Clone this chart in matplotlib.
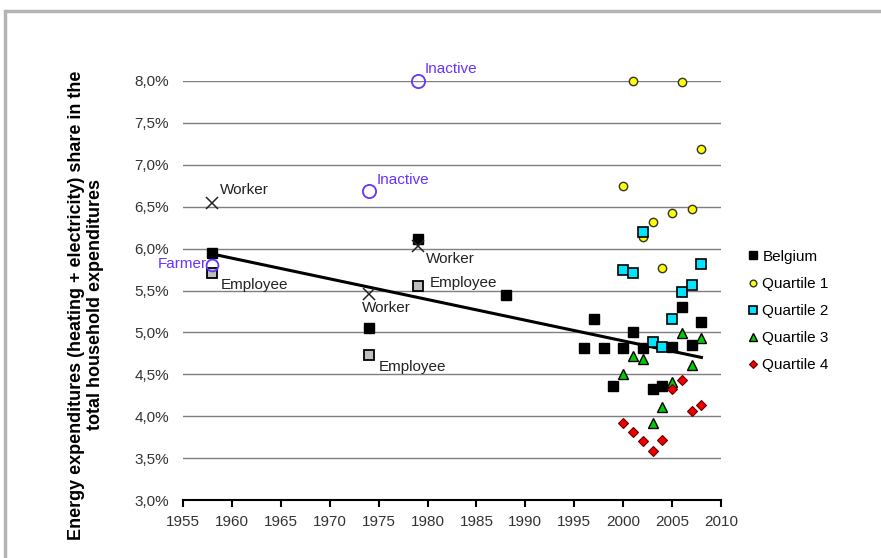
import numpy as np
import matplotlib
matplotlib.use("Agg")
import matplotlib.pyplot as plt
from matplotlib.patches import Rectangle
from matplotlib.ticker import FuncFormatter

plt.rcParams['font.family'] = ['Liberation Sans', 'DejaVu Sans']

# Belgian budget surveys, energy share of household spending (%)
bel_years = [1958, 1974, 1979, 1988, 1996, 1997, 1998, 1999, 2000, 2001,
             2002, 2003, 2004, 2005, 2006, 2007, 2008]
bel_share = [5.95, 5.05, 6.12, 5.45, 4.81, 5.16, 4.81, 4.36, 4.81, 5.00,
             4.81, 4.33, 4.36, 4.83, 5.30, 4.85, 5.13]

q_years = [2000, 2001, 2002, 2003, 2004, 2005, 2006, 2007, 2008]
q1_share = [6.75, 8.00, 6.14, 6.32, 5.77, 6.43, 7.99, 6.47, 7.19]
q2_share = [5.74, 5.71, 6.20, 4.89, 4.83, 5.16, 5.48, 5.57, 5.82]
q3_share = [4.50, 4.72, 4.68, 3.92, 4.11, 4.41, 4.99, 4.61, 4.93]
q4_share = [3.92, 3.81, 3.70, 3.59, 3.72, 4.33, 4.43, 4.06, 4.13]

# socio-professional groups in the older surveys
worker_years = [1958, 1974, 1979]
worker_share = [6.54, 5.46, 6.03]
employee_years = [1958, 1974, 1979]
employee_share = [5.71, 4.73, 5.55]
inactive_years = [1974, 1979]
inactive_share = [6.69, 8.00]
farmer_years = [1958]
farmer_share = [5.80]

violet = '#6633FF'

fig = plt.figure(figsize=(8.81, 5.58), dpi=100)
fig.patches.append(Rectangle((5 / 881, -0.1), 1.2, 1 - 11 / 558 + 0.1,
                             transform=fig.transFigure, fill=False,
                             edgecolor='#b4b4b4', linewidth=2.5))

ax = fig.add_axes([183 / 881, 58 / 558, 538 / 881, 419 / 558])
ax.set_xlim(1955, 2010)
ax.set_ylim(3.0, 8.0)

for v in np.arange(3.5, 8.01, 0.5):
    ax.axhline(v, color='#7f7f7f', linewidth=1.0, zorder=0)

for s in ['left', 'right', 'top']:
    ax.spines[s].set_visible(False)
ax.spines['bottom'].set_linewidth(1.5)

ax.set_xticks(range(1955, 2011, 5))
ax.set_yticks(np.arange(3.0, 8.01, 0.5))
ax.yaxis.set_major_formatter(FuncFormatter(lambda v, p: f"{v:.1f}%".replace('.', ',')))
ax.tick_params(axis='x', direction='out', length=5, width=1.5, pad=6,
               labelsize=11, labelcolor='#333333')
ax.tick_params(axis='y', length=0, pad=10, labelsize=11, labelcolor='#333333')

# trend over all Belgian observations
coef = np.polyfit(bel_years, bel_share, 1)
tx = np.array([min(bel_years), max(bel_years)])
ax.plot(tx, np.polyval(coef, tx), color='black', linewidth=2.2, zorder=3)

mk = dict(linestyle='none', clip_on=False, zorder=4)
ax.plot(bel_years, bel_share, marker='s', markersize=6.5, color='black',
        label='Belgium', **mk)
ax.plot(q_years, q1_share, marker='o', markersize=6, markerfacecolor='#ffff00',
        markeredgecolor='#333333', markeredgewidth=1, label='Quartile 1', **mk)
ax.plot(q_years, q2_share, marker='s', markersize=6.5, markerfacecolor='#00e5ff',
        markeredgecolor='black', markeredgewidth=1.2, label='Quartile 2', **mk)
ax.plot(q_years, q3_share, marker='^', markersize=7, markerfacecolor='#00cc00',
        markeredgecolor='black', markeredgewidth=1, label='Quartile 3', **mk)
ax.plot(q_years, q4_share, marker='D', markersize=5.5, markerfacecolor='#ee0000',
        markeredgecolor='#660000', markeredgewidth=0.8, label='Quartile 4', **mk)

ax.plot(worker_years, worker_share, marker='x', markersize=9, color='#222222',
        markeredgewidth=1.1, **mk)
ax.plot(employee_years, employee_share, marker='s', markersize=7.5,
        markerfacecolor='#bfbfbf', markeredgecolor='black', markeredgewidth=1.3, **mk)
ax.plot(inactive_years, inactive_share, marker='o', markersize=9.5,
        markerfacecolor='none', markeredgecolor=violet, markeredgewidth=1.3, **mk)
ax.plot(farmer_years, farmer_share, marker='o', markersize=8.5,
        markerfacecolor='none', markeredgecolor=violet, markeredgewidth=1.3, **mk)

def tag(text, x, y, dx, dy, color='#222222', ha='left'):
    ax.annotate(text, (x, y), xytext=(dx * 0.72, dy * 0.72),
                textcoords='offset points', ha=ha, va='center',
                fontsize=11, color=color, annotation_clip=False)

tag('Worker', worker_years[0], worker_share[0], 8, 13)
tag('Worker', worker_years[1], worker_share[1], -7, -14)
tag('Worker', worker_years[2], worker_share[2], 8, -13)
tag('Employee', employee_years[0], employee_share[0], 8, -12)
tag('Employee', employee_years[1], employee_share[1], 10, -12)
tag('Employee', employee_years[2], employee_share[2], 12, 3)
tag('Inactive', inactive_years[0], inactive_share[0], 8, 11, color=violet)
tag('Inactive', inactive_years[1], inactive_share[1], 7, 12, color=violet)
tag('Farmer', farmer_years[0], farmer_share[0], -5, 1, color=violet, ha='right')

fig.legend(loc='center left', bbox_to_anchor=(741 / 881, 1 - 311 / 558),
           frameon=False, fontsize=11, handlelength=0.6, handletextpad=0.3,
           labelspacing=0.86, markerscale=0.8, borderpad=0)

fig.text(86 / 881, 1 - 305 / 558,
         'Energy expenditures (heating + electricity) share in the\n'
         'total household expenditures',
         rotation=90, ha='center', va='center', fontsize=13, fontweight='bold',
         linespacing=1.2)

fig.savefig('out.png', dpi=100)
